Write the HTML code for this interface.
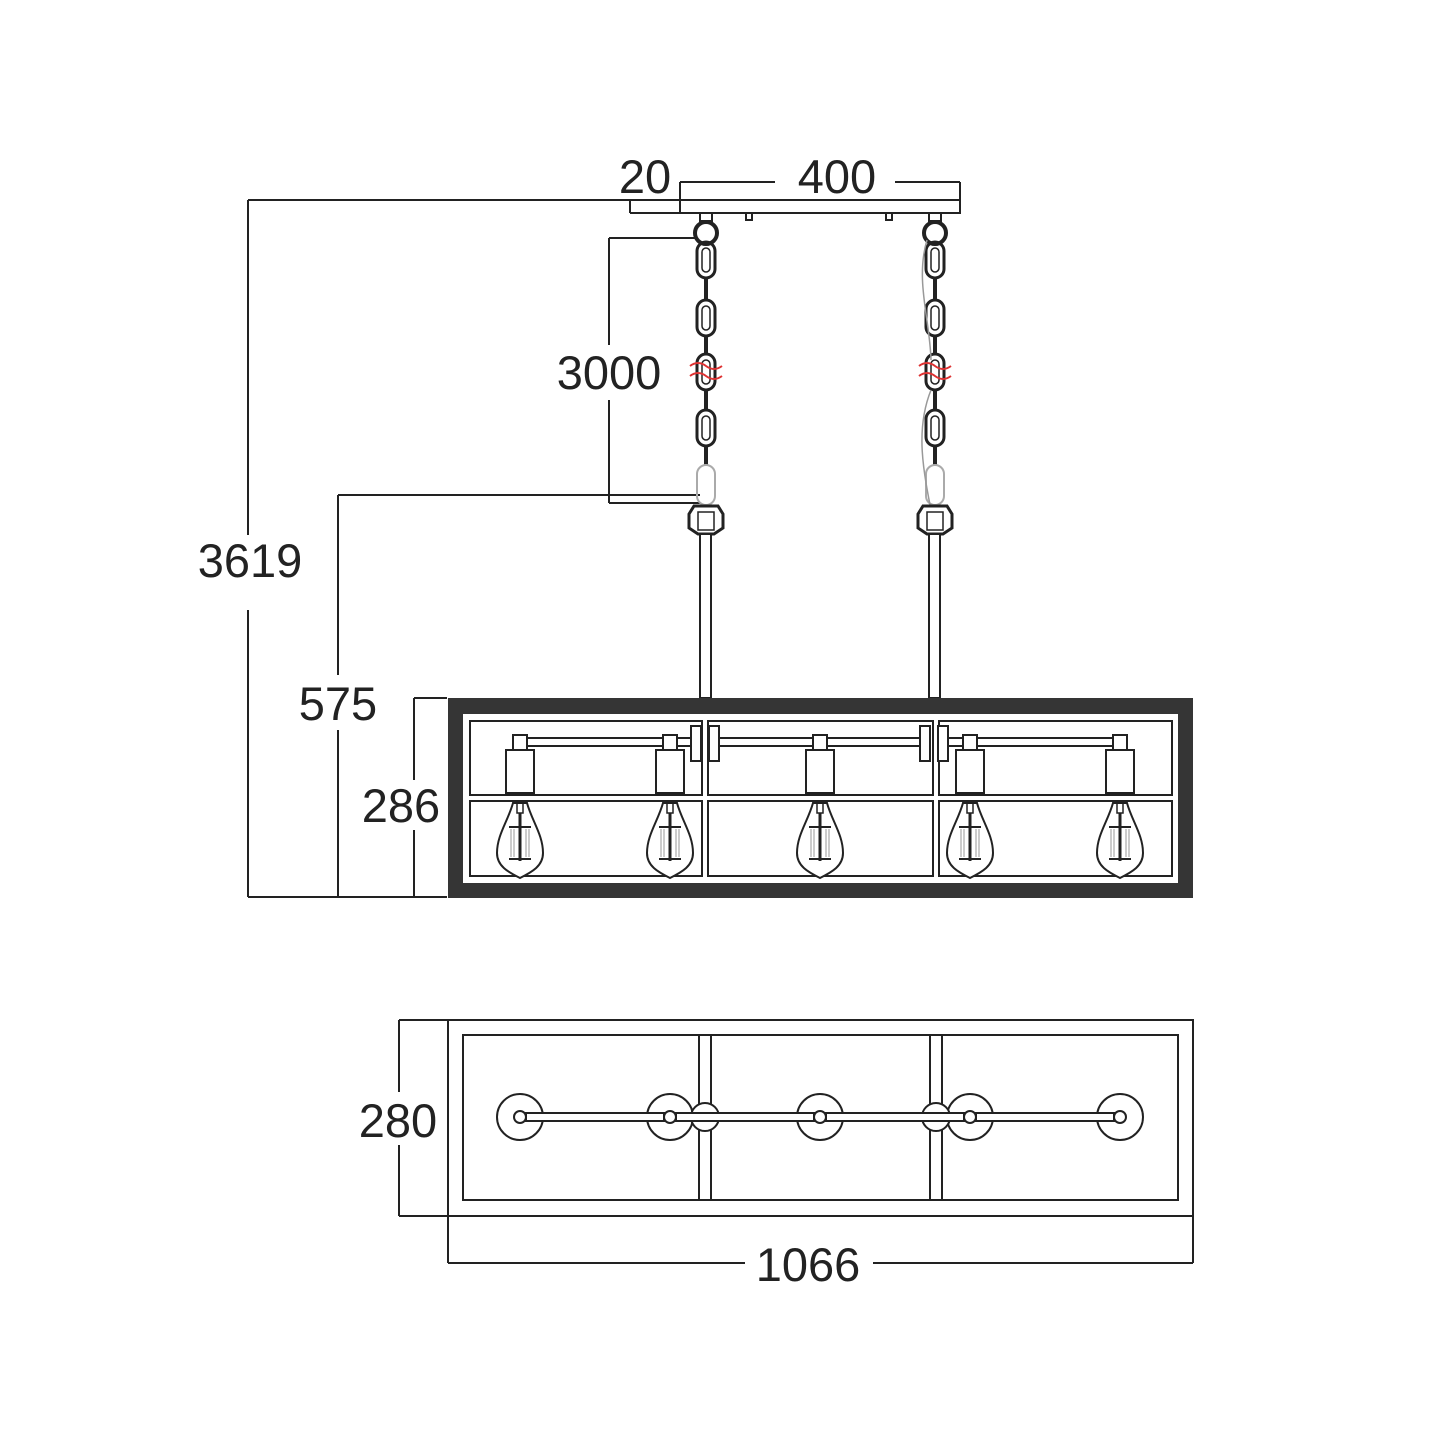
<!DOCTYPE html>
<html><head><meta charset="utf-8"><style>
html,body{margin:0;padding:0;background:#fff;}
svg{display:block}
text{font-family:"Liberation Sans",sans-serif;font-size:47px;fill:#222;}
</style></head><body>
<svg width="1445" height="1445" viewBox="0 0 1445 1445" xmlns="http://www.w3.org/2000/svg">
<defs>
<g id="link"><rect x="-9" y="-18" width="18" height="36" rx="9" fill="none" stroke="#222" stroke-width="3"/><rect x="-4" y="-12" width="8" height="24" rx="4" fill="none" stroke="#222" stroke-width="1.5"/></g>
<g id="sock">
<rect x="-7" y="-8" width="14" height="15" fill="#fff" stroke="#222" stroke-width="2"/>
<rect x="-14" y="7" width="28" height="43" fill="#fff" stroke="#222" stroke-width="2"/>
</g>
<g id="bulb">
<path d="M-7 0 L7 0 C12 18 23 32 23 50 C23 63 12 69 0 75 C-12 69 -23 63 -23 50 C-23 32 -12 18 -7 0 Z" fill="#fff" stroke="#222" stroke-width="2"/>
<rect x="-3" y="0" width="6" height="10" fill="none" stroke="#222" stroke-width="1.5"/>
<line x1="0" y1="10" x2="0" y2="58" stroke="#222" stroke-width="3"/>
<line x1="-11" y1="24" x2="11" y2="24" stroke="#222" stroke-width="2"/>
<line x1="-11" y1="56" x2="11" y2="56" stroke="#222" stroke-width="2"/>
<g stroke="#999" stroke-width="1"><line x1="-9" y1="26" x2="-9" y2="54"/><line x1="-6" y1="26" x2="-6" y2="54"/><line x1="6" y1="26" x2="6" y2="54"/><line x1="9" y1="26" x2="9" y2="54"/></g>
</g>
<g id="disc"><circle r="23" fill="#fff" stroke="#222" stroke-width="2"/><circle r="6" fill="#fff" stroke="#222" stroke-width="2"/></g>
</defs>
<g fill="none" stroke="#222" stroke-width="2">
<rect x="680" y="200" width="280" height="13"/>
<line x1="630" y1="200" x2="630" y2="213"/><line x1="630" y1="213" x2="680" y2="213"/>
<line x1="248" y1="200" x2="680" y2="200"/>
<rect x="746" y="213" width="6" height="7"/><rect x="886" y="213" width="6" height="7"/>
<line x1="680" y1="182" x2="680" y2="213"/><line x1="960" y1="182" x2="960" y2="213"/>
<line x1="680" y1="182" x2="775" y2="182"/><line x1="895" y1="182" x2="960" y2="182"/>
<line x1="248" y1="200" x2="248" y2="535"/><line x1="248" y1="610" x2="248" y2="897"/>
<line x1="248" y1="897" x2="447" y2="897"/>
<line x1="609" y1="238" x2="700" y2="238"/><line x1="609" y1="238" x2="609" y2="345"/><line x1="609" y1="400" x2="609" y2="503"/><line x1="609" y1="503" x2="700" y2="503"/>
<line x1="338" y1="495" x2="700" y2="495"/><line x1="338" y1="495" x2="338" y2="675"/><line x1="338" y1="730" x2="338" y2="897"/>
<line x1="414" y1="698" x2="447" y2="698"/><line x1="414" y1="698" x2="414" y2="780"/><line x1="414" y1="830" x2="414" y2="897"/>
</g>
<g>
<g transform="translate(706,0)">
<rect x="-6" y="213" width="12" height="8" fill="none" stroke="#222" stroke-width="2"/>
<circle cx="0" cy="233" r="11" fill="#fff" stroke="#222" stroke-width="4"/>
<use href="#link" transform="translate(0,260)"/>
<line x1="0" y1="278" x2="0" y2="300" stroke="#222" stroke-width="4"/>
<use href="#link" transform="translate(0,318)"/>
<line x1="0" y1="336" x2="0" y2="354" stroke="#222" stroke-width="4"/>
<use href="#link" transform="translate(0,372)"/>
<line x1="0" y1="390" x2="0" y2="410" stroke="#222" stroke-width="4"/>
<use href="#link" transform="translate(0,428)"/>
<line x1="0" y1="446" x2="0" y2="465" stroke="#222" stroke-width="4"/>
<rect x="-9" y="465" width="18" height="40" rx="9" fill="none" stroke="#aaa" stroke-width="2"/>
<path d="M-12 506 L12 506 L17 514 L17 528 L8 534 L-8 534 L-17 528 L-17 514 Z" fill="#fff" stroke="#222" stroke-width="3"/>
<rect x="-8" y="512" width="16" height="18" fill="none" stroke="#222" stroke-width="1.5"/>
<path d="M-16 366 q8 -6 16 0 t16 0 M-16 376 q8 -6 16 0 t16 0" fill="none" stroke="#d33" stroke-width="2"/>
</g>
<g transform="translate(935,0)">
<rect x="-6" y="213" width="12" height="8" fill="none" stroke="#222" stroke-width="2"/>
<circle cx="0" cy="233" r="11" fill="#fff" stroke="#222" stroke-width="4"/>
<use href="#link" transform="translate(0,260)"/>
<line x1="0" y1="278" x2="0" y2="300" stroke="#222" stroke-width="4"/>
<use href="#link" transform="translate(0,318)"/>
<line x1="0" y1="336" x2="0" y2="354" stroke="#222" stroke-width="4"/>
<use href="#link" transform="translate(0,372)"/>
<line x1="0" y1="390" x2="0" y2="410" stroke="#222" stroke-width="4"/>
<use href="#link" transform="translate(0,428)"/>
<line x1="0" y1="446" x2="0" y2="465" stroke="#222" stroke-width="4"/>
<rect x="-9" y="465" width="18" height="40" rx="9" fill="none" stroke="#aaa" stroke-width="2"/>
<path d="M-8 240 C-20 280 -5 320 -4 360 M-4 390 C-20 430 -12 470 -2 520" fill="none" stroke="#999" stroke-width="1.5"/>
<path d="M-12 506 L12 506 L17 514 L17 528 L8 534 L-8 534 L-17 528 L-17 514 Z" fill="#fff" stroke="#222" stroke-width="3"/>
<rect x="-8" y="512" width="16" height="18" fill="none" stroke="#222" stroke-width="1.5"/>
<path d="M-16 366 q8 -6 16 0 t16 0 M-16 376 q8 -6 16 0 t16 0" fill="none" stroke="#d33" stroke-width="2"/>
</g>
</g>
<rect x="700" y="534" width="11" height="164" fill="#fff" stroke="#222" stroke-width="2"/>
<rect x="929" y="534" width="11" height="164" fill="#fff" stroke="#222" stroke-width="2"/>
<rect x="448" y="698" width="745" height="200" fill="#353535"/>
<rect x="463" y="714" width="715" height="169" fill="#fff"/>
<g fill="none" stroke="#222" stroke-width="2">
<rect x="470" y="721" width="232" height="74"/><rect x="708" y="721" width="225" height="74"/><rect x="939" y="721" width="233" height="74"/>
<rect x="470" y="801" width="232" height="75"/><rect x="708" y="801" width="225" height="75"/><rect x="939" y="801" width="233" height="75"/>
</g>
<g fill="#fff" stroke="#222" stroke-width="2">
<rect x="527" y="738" width="166" height="8"/><rect x="719" y="738" width="207" height="8"/><rect x="946" y="738" width="174" height="8"/>
<rect x="691" y="726" width="10" height="35"/><rect x="709" y="726" width="10" height="35"/>
<rect x="920" y="726" width="10" height="35"/><rect x="938" y="726" width="10" height="35"/>
</g>
<use href="#sock" transform="translate(520,743)"/>
<use href="#sock" transform="translate(670,743)"/>
<use href="#sock" transform="translate(820,743)"/>
<use href="#sock" transform="translate(970,743)"/>
<use href="#sock" transform="translate(1120,743)"/>
<use href="#bulb" transform="translate(520,803)"/>
<use href="#bulb" transform="translate(670,803)"/>
<use href="#bulb" transform="translate(820,803)"/>
<use href="#bulb" transform="translate(970,803)"/>
<use href="#bulb" transform="translate(1120,803)"/>
<g fill="none" stroke="#222" stroke-width="2">
<rect x="448" y="1020" width="745" height="196"/>
<rect x="463" y="1035" width="715" height="165"/>
<rect x="699" y="1035" width="12" height="165"/><rect x="930" y="1035" width="12" height="165"/>
<line x1="399" y1="1020" x2="448" y2="1020"/><line x1="399" y1="1216" x2="448" y2="1216"/>
<line x1="399" y1="1020" x2="399" y2="1092"/><line x1="399" y1="1145" x2="399" y2="1216"/>
<line x1="448" y1="1216" x2="448" y2="1263"/><line x1="1193" y1="1216" x2="1193" y2="1263"/>
<line x1="448" y1="1263" x2="745" y2="1263"/><line x1="873" y1="1263" x2="1193" y2="1263"/>
</g>
<use href="#disc" transform="translate(520,1117)"/>
<use href="#disc" transform="translate(670,1117)"/>
<use href="#disc" transform="translate(820,1117)"/>
<use href="#disc" transform="translate(970,1117)"/>
<use href="#disc" transform="translate(1120,1117)"/>
<circle cx="705" cy="1117" r="14" fill="#fff" stroke="#222" stroke-width="2"/>
<circle cx="936" cy="1117" r="14" fill="#fff" stroke="#222" stroke-width="2"/>
<g fill="#fff" stroke="#222" stroke-width="2">
<rect x="526" y="1113" width="138" height="8"/><rect x="676" y="1113" width="138" height="8"/><rect x="826" y="1113" width="138" height="8"/><rect x="976" y="1113" width="138" height="8"/>
</g>
<text x="645" y="193" text-anchor="middle">20</text>
<text x="837" y="193" text-anchor="middle">400</text>
<text x="609" y="389" text-anchor="middle">3000</text>
<text x="250" y="577" text-anchor="middle">3619</text>
<text x="338" y="720" text-anchor="middle">575</text>
<text x="401" y="822" text-anchor="middle">286</text>
<text x="398" y="1137" text-anchor="middle">280</text>
<text x="808" y="1281" text-anchor="middle">1066</text>
</svg>
</body></html>
